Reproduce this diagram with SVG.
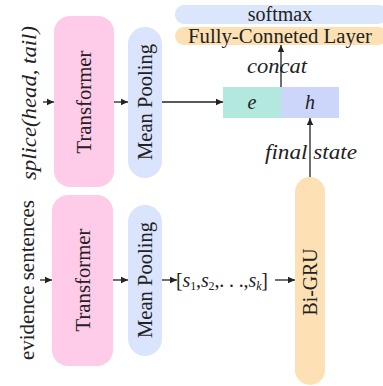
<svg xmlns="http://www.w3.org/2000/svg" width="383" height="386" viewBox="0 0 383 386" font-family="'Liberation Serif', 'Times New Roman', serif">
<defs>
<marker id="ah" markerWidth="8" markerHeight="8" refX="7" refY="4" orient="auto" markerUnits="userSpaceOnUse">
<path d="M0,0.8 L7,4 L0,7.2 z" fill="#222"/>
</marker>
<style>
text{font-family:'Liberation Serif', 'Times New Roman', serif}
.t{fill:#222;font-size:20px}
.i{font-style:italic}
.c{stroke:#222;stroke-width:1.3;fill:none;marker-end:url(#ah)}
</style>
</defs>
<rect width="383" height="386" fill="#fff"/>
<g id="softmax">
<rect x="175" y="5" width="212" height="19" rx="9" fill="#dbe5fb"/>
<text class="t" x="280" y="21" text-anchor="middle">softmax</text>
</g>
<g id="fc">
<rect x="175" y="27" width="212" height="18" rx="9" fill="#fde0b3"/>
<text class="t" x="280" y="43" text-anchor="middle" textLength="184" lengthAdjust="spacingAndGlyphs">Fully-Conneted Layer</text>
</g>
<g id="splice">
<text class="t i" transform="translate(29,103) rotate(-90)" text-anchor="middle" dominant-baseline="central" textLength="154" lengthAdjust="spacingAndGlyphs">splice(head, tail)</text>
</g>
<g id="transformer1">
<rect x="54" y="16" width="60" height="171" rx="16" fill="#fecbe8"/>
<text class="t" transform="translate(84,102) rotate(-90)" text-anchor="middle" dominant-baseline="central" textLength="103" lengthAdjust="spacingAndGlyphs">Transformer</text>
</g>
<g id="meanpool1">
<rect x="128" y="27" width="34" height="151" rx="17" fill="#dae4fc"/>
<text class="t" transform="translate(145,102) rotate(-90)" text-anchor="middle" dominant-baseline="central" textLength="116" lengthAdjust="spacingAndGlyphs">Mean Pooling</text>
</g>
<g id="evidence">
<text class="t" transform="translate(27,280) rotate(-90)" text-anchor="middle" dominant-baseline="central" textLength="160" lengthAdjust="spacingAndGlyphs">evidence sentences</text>
</g>
<g id="transformer2">
<rect x="52" y="195" width="61" height="171" rx="16" fill="#fecbe8"/>
<text class="t" transform="translate(83,280) rotate(-90)" text-anchor="middle" dominant-baseline="central" textLength="103" lengthAdjust="spacingAndGlyphs">Transformer</text>
</g>
<g id="meanpool2">
<rect x="128" y="205" width="34" height="151" rx="17" fill="#dae4fc"/>
<text class="t" transform="translate(145,280) rotate(-90)" text-anchor="middle" dominant-baseline="central" textLength="116" lengthAdjust="spacingAndGlyphs">Mean Pooling</text>
</g>
<g id="seq">
<text class="t" x="176" y="287" font-size="21" textLength="92" lengthAdjust="spacing">[<tspan class="i">s</tspan><tspan font-size="12" dy="3">1</tspan><tspan dy="-3">,</tspan><tspan class="i">s</tspan><tspan font-size="12" dy="3">2</tspan><tspan dy="-3">,</tspan>. . .,<tspan class="i">s</tspan><tspan class="i" font-size="12" dy="3">k</tspan><tspan dy="-3">]</tspan></text>
</g>
<g id="bigru">
<rect x="295" y="177" width="30" height="208" rx="15" fill="#fde0b3"/>
<text class="t" transform="translate(310,282) rotate(-90)" text-anchor="middle" dominant-baseline="central" textLength="67" lengthAdjust="spacingAndGlyphs">Bi-GRU</text>
</g>
<g id="eh">
<rect x="223" y="87" width="58" height="31" fill="#b2e8dd"/>
<rect x="281" y="87" width="58" height="31" fill="#ccd5fa"/>
<text class="t i" x="252" y="109" text-anchor="middle">e</text>
<text class="t i" x="310" y="109" text-anchor="middle">h</text>
</g>
<g id="labels">
<text class="t i" x="277" y="73" text-anchor="middle" textLength="60" lengthAdjust="spacingAndGlyphs">concat</text>
<text class="t i" x="311" y="159" text-anchor="middle" textLength="92" lengthAdjust="spacingAndGlyphs">final state</text>
</g>
<g id="connectors">
<line class="c" x1="43" y1="102" x2="54" y2="102"/>
<line class="c" x1="114" y1="102" x2="128" y2="102"/>
<line class="c" x1="162" y1="102" x2="223" y2="102"/>
<line class="c" x1="40" y1="280" x2="52" y2="280"/>
<line class="c" x1="113" y1="280" x2="128" y2="280"/>
<line class="c" x1="162" y1="280" x2="177" y2="280"/>
<line class="c" x1="275" y1="280" x2="295" y2="280"/>
<line class="c" x1="310" y1="177" x2="310" y2="118"/>
<line class="c" x1="281" y1="87" x2="281" y2="45"/>
</g>
</svg>
